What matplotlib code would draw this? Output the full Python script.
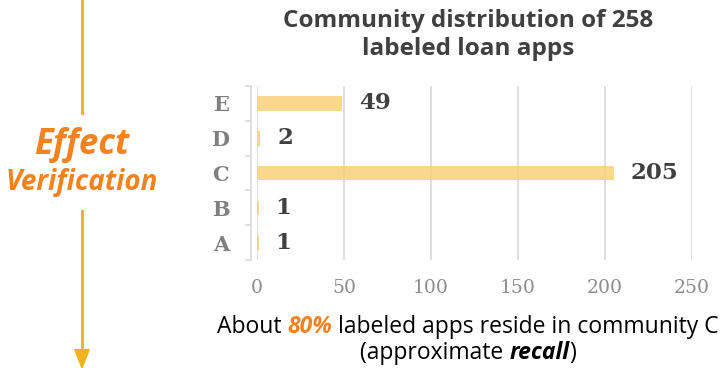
import matplotlib.pyplot as plt
from matplotlib.patches import FancyArrow
import numpy as np

communities = ['A', 'B', 'C', 'D', 'E']
app_counts = [1, 1, 205, 2, 49]
x_ticks = [0, 50, 100, 150, 200, 250]

orange = '#F58220'
gold = '#F2B31E'

fig = plt.figure(figsize=(7.28, 3.68), dpi=100)
ax = fig.add_axes([0.353, 0.2935, 0.5975, 0.4725])

# spine position first, it resets the tick objects
for s in ['top', 'right', 'bottom']:
    ax.spines[s].set_visible(False)
ax.spines['left'].set_color('#d9d9d9')
ax.spines['left'].set_linewidth(1.2)
ax.spines['left'].set_position(('outward', 4))

y = np.arange(len(communities))
ax.barh(y, app_counts, height=0.42, color='#F8D27A', alpha=0.85, zorder=2)
for yi, v in zip(y, app_counts):
    ax.annotate(str(v), (v, yi), xytext=(12, 0), textcoords='offset points',
                ha='left', va='center', fontsize=16.5, fontweight='bold',
                family='DejaVu Serif', color='#404040')

ax.set_xlim(0, 250)
ax.set_ylim(-0.5, len(communities) - 0.5)
ax.set_xticks(x_ticks)
ax.set_yticks(y)
ax.set_yticks(np.arange(len(communities) + 1) - 0.5, minor=True)
ax.set_yticklabels(communities)
ax.tick_params(axis='x', length=0, pad=14)
ax.tick_params(axis='y', which='major', length=0, pad=16)
ax.tick_params(axis='y', which='minor', length=4, color='#d9d9d9', width=1.2)
for lab in ax.get_xticklabels():
    lab.set_family('DejaVu Serif')
    lab.set_fontsize(13.5)
    lab.set_color('#8c8c8c')
for lab in ax.get_yticklabels():
    lab.set_family('DejaVu Serif')
    lab.set_fontsize(15)
    lab.set_fontweight('bold')
    lab.set_color('#7f7f7f')
ax.grid(axis='x', color='#d9d9d9', linewidth=1.2, zorder=1)
ax.set_axisbelow(True)

fig.text(0.643, 0.905, 'Community distribution of 258\nlabeled loan apps', ha='center', va='center',
         family='Open Sans', fontweight='bold', fontsize=17.5, color='#404040', linespacing=1.2)


def centered_runs(runs, yc, size):
    # draw text pieces in a row, centred as a whole on the chart
    r = fig.canvas.get_renderer()
    texts = []
    for s, kw in runs:
        texts.append(fig.text(0, yc, s, ha='left', va='center', family='Open Sans', fontsize=size, **kw))
    widths = [t.get_window_extent(r).width / fig.bbox.width for t in texts]
    x = 0.643 - sum(widths) / 2
    for t, w in zip(texts, widths):
        t.set_x(x)
        x += w


fig.canvas.draw()
centered_runs([('About ', dict(color='black')),
               ('80%', dict(color=orange, fontweight='bold', style='italic')),
               (' labeled apps reside in community C', dict(color='black'))], 0.111, 16.5)
centered_runs([('(approximate ', dict(color='black')),
               ('recall', dict(color='black', fontweight='bold', style='italic')),
               (')', dict(color='black'))], 0.04, 16.5)

# left arrow with label
fig.add_artist(plt.Line2D([0.1126, 0.1126], [1.0, 0.693], color=gold, linewidth=2.2))
fig.add_artist(plt.Line2D([0.1126, 0.1126], [0.427, 0.05], color=gold, linewidth=2.2))
fig.add_artist(FancyArrow(0.1126, 0.05, 0, -0.05, width=0, head_width=0.02, head_length=0.05,
                          length_includes_head=True, color=gold, transform=fig.transFigure))
fig.text(0.1126, 0.607, 'Effect', ha='center', va='center', family='Open Sans', fontsize=25,
         fontweight='bold', style='italic', color=orange)
fig.text(0.1126, 0.505, 'Verification', ha='center', va='center', family='Open Sans', fontsize=20,
         fontweight='bold', style='italic', color=orange)

fig.savefig('out.png', dpi=100)
